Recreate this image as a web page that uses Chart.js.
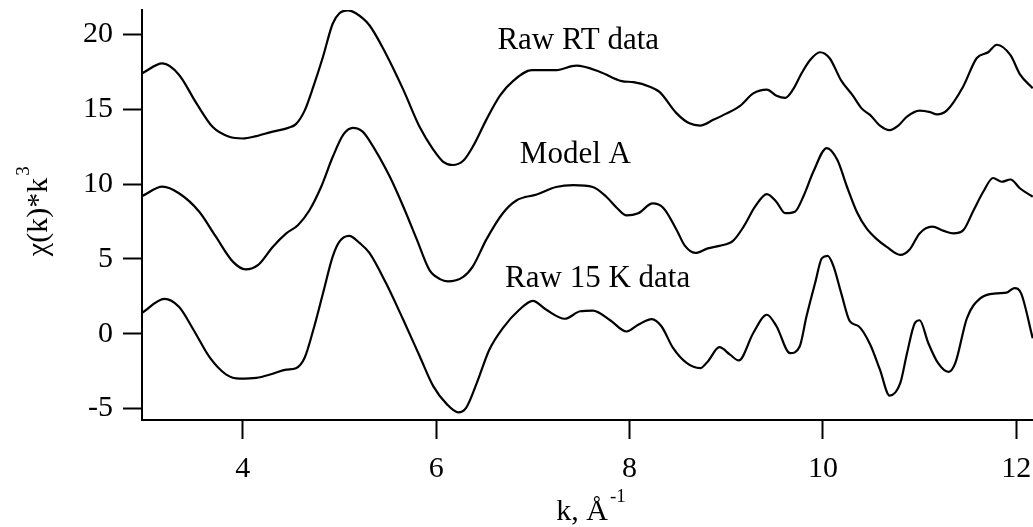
<!DOCTYPE html>
<html>
<head>
<meta charset="utf-8">
<script src="https://cdn.jsdelivr.net/npm/chart.js@4/dist/chart.umd.min.js"></script>
<style>
  html, body { margin: 0; padding: 0; background: #fff; }
  #wrap { width: 1033px; height: 527px; }
</style>
</head>
<body>
<div id="wrap"><canvas id="chi" width="1033" height="527"></canvas></div>
<script>
// EXAFS chi(k)*k^3 curves: room-temperature data, model A, 15 K data
const rtK = [2.96, 3.17, 3.34, 3.52, 3.69, 3.86, 4.00, 4.14, 4.31, 4.47, 4.55, 4.64, 4.73, 4.83, 4.93, 5.00, 5.09, 5.17, 5.31, 5.48,
  5.66, 5.83, 5.97, 6.07, 6.17, 6.28, 6.38, 6.52, 6.66, 6.80, 6.99, 7.23, 7.45, 7.69, 7.92, 8.04, 8.21, 8.31, 8.49, 8.62,
  8.73, 8.87, 9.00, 9.14, 9.28, 9.42, 9.52, 9.61, 9.69, 9.78, 9.87, 9.97, 10.07, 10.19, 10.31, 10.40, 10.49, 10.59, 10.69, 10.78,
  10.87, 11.00, 11.11, 11.18, 11.28, 11.45, 11.59, 11.71, 11.80, 11.94, 12.04, 12.17];
const rtChi = [17.4, 18.05, 17.3, 15.4, 13.8, 13.15, 13.04, 13.2, 13.5, 13.75, 14.0, 14.9, 16.5, 18.5, 20.7, 21.4, 21.6, 21.4, 20.6, 18.7,
  16.3, 13.8, 12.3, 11.5, 11.27, 11.55, 12.5, 14.3, 15.9, 16.9, 17.6, 17.6, 17.9, 17.5, 16.87, 16.8, 16.5, 16.15, 14.7, 14.05,
  13.9, 14.3, 14.7, 15.2, 16.05, 16.3, 15.9, 15.75, 16.3, 17.4, 18.3, 18.8, 18.4, 16.9, 15.9, 15.05, 14.6, 13.9, 13.6, 13.9,
  14.5, 14.9, 14.8, 14.65, 14.9, 16.5, 18.4, 18.8, 19.3, 18.6, 17.3, 16.4];

const modelK = [2.96, 3.17, 3.34, 3.55, 3.72, 3.90, 4.03, 4.16, 4.31, 4.45, 4.57, 4.69, 4.81, 4.93, 5.04, 5.14, 5.24, 5.31, 5.52, 5.66,
  5.80, 5.93, 6.04, 6.12, 6.28, 6.38, 6.52, 6.69, 6.83, 7.04, 7.24, 7.42, 7.62, 7.76, 7.87, 7.97, 8.09, 8.24, 8.35, 8.49,
  8.57, 8.68, 8.81, 8.93, 9.07, 9.18, 9.30, 9.42, 9.52, 9.61, 9.71, 9.80, 9.90, 10.04, 10.15, 10.25, 10.35, 10.45, 10.56, 10.66,
  10.80, 10.90, 11.00, 11.13, 11.25, 11.35, 11.45, 11.56, 11.66, 11.76, 11.85, 11.94, 12.04, 12.17];
const modelChi = [9.2, 9.82, 9.38, 8.15, 6.5, 4.8, 4.3, 4.6, 5.8, 6.7, 7.25, 8.25, 9.8, 11.8, 13.3, 13.75, 13.5, 12.9, 10.5, 8.5,
  6.3, 4.27, 3.65, 3.5, 3.8, 4.5, 6.3, 8.05, 8.9, 9.3, 9.8, 9.93, 9.8, 9.15, 8.4, 7.9, 8.05, 8.7, 8.4, 6.9,
  5.9, 5.4, 5.7, 5.87, 6.2, 7.15, 8.5, 9.33, 8.8, 8.05, 8.15, 9.2, 10.8, 12.4, 11.6, 9.8, 8.15, 7.05, 6.3, 5.8,
  5.27, 5.65, 6.7, 7.15, 6.87, 6.7, 6.9, 8.27, 9.5, 10.4, 10.15, 10.3, 9.7, 9.15];

const lowTK = [2.96, 3.19, 3.34, 3.49, 3.66, 3.83, 3.97, 4.14, 4.31, 4.45, 4.55, 4.64, 4.73, 4.83, 4.93, 5.00, 5.10, 5.21, 5.31, 5.48,
  5.66, 5.83, 5.97, 6.11, 6.23, 6.31, 6.42, 6.55, 6.69, 6.86, 7.00, 7.14, 7.33, 7.49, 7.62, 7.80, 7.97, 8.09, 8.23, 8.33,
  8.45, 8.59, 8.73, 8.81, 8.93, 9.04, 9.13, 9.28, 9.42, 9.52, 9.66, 9.76, 9.83, 9.92, 9.99, 10.05, 10.11, 10.19, 10.28, 10.37,
  10.49, 10.59, 10.69, 10.80, 10.87, 10.95, 11.00, 11.09, 11.19, 11.30, 11.37, 11.49, 11.63, 11.80, 11.90, 11.98, 12.05, 12.17];
const lowTChi = [1.4, 2.33, 1.8, 0.27, -1.6, -2.73, -3.0, -2.95, -2.67, -2.4, -2.3, -1.6, 0.27, 2.7, 5.15, 6.15, 6.53, 6.05, 5.4, 3.4,
  0.93, -1.5, -3.5, -4.7, -5.25, -4.95, -3.3, -1.07, 0.38, 1.6, 2.2, 1.6, 1.0, 1.5, 1.55, 0.9, 0.15, 0.6, 0.98, 0.5,
  -0.95, -1.95, -2.3, -1.85, -0.9, -1.4, -1.78, 0.05, 1.27, 0.5, -1.3, -0.85, 1.15, 3.4, 5.05, 5.2, 4.5, 2.7, 0.82, 0.5,
  -0.73, -2.4, -4.13, -3.3, -1.3, 0.7, 0.9, -0.62, -1.95, -2.55, -1.95, 1.05, 2.38, 2.7, 2.75, 3.05, 2.7, -0.3];

// curve names, written next to each curve (k, chi position of the text baseline centre)
const curveNames = ['Raw RT data', 'Model A', 'Raw 15 K data'];
const nameK = [7.47, 7.44, 7.67];
const nameChi = [19.0, 11.4, 3.15];

const xTicks = [4, 6, 8, 10, 12];
const yTicks = [-5, 0, 5, 10, 15, 20];

const SERIF = '"Liberation Serif", "DejaVu Serif", serif';

function pts(ks, vs) { return ks.map((k, i) => ({ x: k, y: vs[i] })); }

const textPlugin = {
  id: 'chiText',
  afterDraw(chart) {
    const { ctx, scales } = chart;
    ctx.save();
    ctx.fillStyle = '#000';
    // curve names
    ctx.font = '31px ' + SERIF;
    ctx.textAlign = 'center';
    ctx.textBaseline = 'alphabetic';
    curveNames.forEach((t, i) => {
      ctx.fillText(t, scales.x.getPixelForValue(nameK[i]), scales.y.getPixelForValue(nameChi[i]));
    });
    // x axis title: k, Å^-1
    ctx.textAlign = 'left';
    ctx.font = '30px ' + SERIF;
    const xMain = 'k, Å';
    const wMain = ctx.measureText(xMain).width;
    ctx.font = '19px ' + SERIF;
    const wSup = ctx.measureText('-1').width;
    const xStart = 591 - (wMain + 2 + wSup) / 2;
    ctx.font = '30px ' + SERIF;
    ctx.fillText(xMain, xStart, 520);
    ctx.font = '19px ' + SERIF;
    ctx.fillText('-1', xStart + wMain + 2, 502);
    // y axis title: χ(k)*k^3, rotated
    ctx.translate(47, 217);
    ctx.rotate(-Math.PI / 2);
    ctx.font = '30px ' + SERIF;
    const yMain = 'χ(k)*k';
    const wy = ctx.measureText(yMain).width;
    ctx.fillText(yMain, -wy / 2, 0);
    ctx.font = '19px ' + SERIF;
    ctx.fillText('3', wy / 2 + 2, -18);
    ctx.restore();
  }
};

const lineStyle = { borderColor: '#000', borderWidth: 2.2, pointRadius: 0, fill: false, cubicInterpolationMode: 'monotone' };

new Chart(document.getElementById('chi'), {
  type: 'line',
  data: {
    datasets: [
      Object.assign({ label: 'Raw RT data', data: pts(rtK, rtChi) }, lineStyle),
      Object.assign({ label: 'Model A', data: pts(modelK, modelChi) }, lineStyle),
      Object.assign({ label: 'Raw 15 K data', data: pts(lowTK, lowTChi) }, lineStyle)
    ]
  },
  options: {
    responsive: false,
    animation: false,
    layout: { padding: { top: 10, right: 0, left: 0, bottom: 0 } },
    plugins: { legend: { display: false }, tooltip: { enabled: false } },
    scales: {
      x: {
        type: 'linear',
        min: 2.958,
        max: 12.173,
        afterFit(s) { s.height = 107; s.paddingLeft = 0; s.paddingRight = 0; },
        afterBuildTicks(s) { s.ticks = xTicks.map(v => ({ value: v })); },
        grid: { display: true, drawOnChartArea: false, drawTicks: true, tickLength: 19, tickWidth: 2, tickColor: '#000' },
        border: { display: true, color: '#000', width: 2 },
        ticks: { color: '#000', font: { family: SERIF, size: 30 }, padding: 12, maxRotation: 0, autoSkip: false,
                 callback: v => String(v) }
      },
      y: {
        type: 'linear',
        min: -5.76,
        max: 21.62,
        afterFit(s) { s.width = 142; s.paddingTop = 0; s.paddingBottom = 0; },
        afterBuildTicks(s) { s.ticks = yTicks.map(v => ({ value: v })); },
        grid: { display: true, drawOnChartArea: false, drawTicks: true, tickLength: 19, tickWidth: 2, tickColor: '#000' },
        border: { display: true, color: '#000', width: 2 },
        ticks: { color: '#000', font: { family: SERIF, size: 30 }, padding: 10, autoSkip: false,
                 callback: v => String(v) }
      }
    }
  },
  plugins: [textPlugin]
});
</script>
</body>
</html>
